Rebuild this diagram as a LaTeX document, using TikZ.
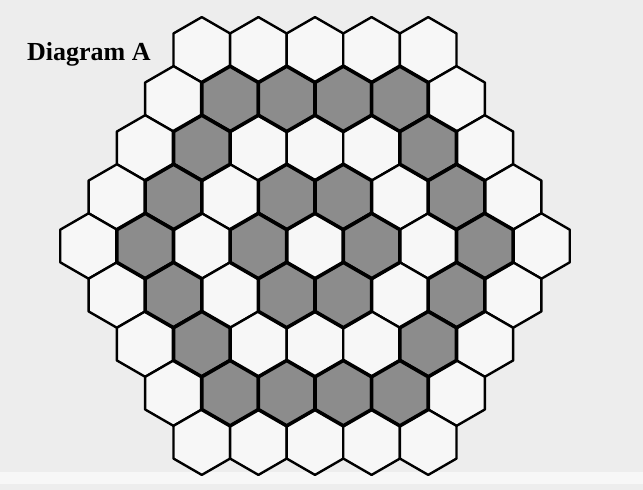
\documentclass[tikz,border=0pt]{standalone}
\usepackage{fontspec}
\setmainfont{Liberation Serif}
\usetikzlibrary{shapes.geometric}

\begin{document}
\begin{tikzpicture}[x=1pt, y=-1pt,
		hex/.style={regular polygon, regular polygon sides=6, shape border rotate=30,
			minimum size=65.4pt, inner sep=0pt, draw=black, line join=round},
		hex0/.style={hex, fill=white!97!black, line width=2.4pt},
		hex1/.style={hex, fill=black!45, line width=3.6pt}]
	\useasboundingbox[fill=black!7] (0,0) rectangle (643,490);
	\fill[white!97!black] (0,472) rectangle (643,484);
	\node[anchor=base west, inner sep=0pt, font=\fontsize{26}{26}\selectfont\bfseries] (title) at (27,60) {Diagram A};
	% plain cells first, then the shaded rings 1 and 3 on top
	\foreach \g in {0,1}
	\foreach \r in {-4,...,4}
	\foreach \q in {-4,...,4}{
		\pgfmathtruncatemacro\d{max(abs(\q),abs(\r),abs(\q+(\r)))}
		\pgfmathtruncatemacro\s{(\d==1)||(\d==3)}
		\ifnum\d<5 \ifnum\s=\g
			\node[hex\g] (c\q_\r) at ({315+56.6*(\q+(\r)/2)},{246+49.05*(\r)}) {};
		\fi\fi
	}
\end{tikzpicture}
\end{document}
